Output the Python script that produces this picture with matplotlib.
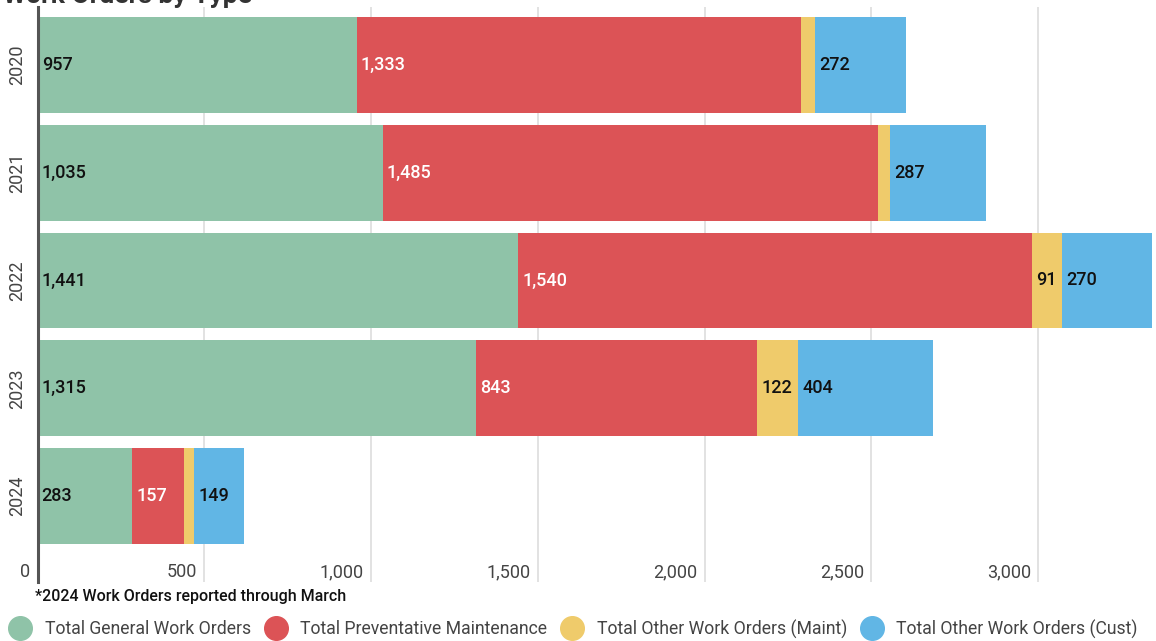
import matplotlib.pyplot as plt
from matplotlib.lines import Line2D
from matplotlib.transforms import blended_transform_factory, offset_copy

plt.rcParams['font.family'] = ['Roboto', 'DejaVu Sans']

# data
years = ['2020', '2021', '2022', '2023', '2024']
general = [957, 1035, 1441, 1315, 283]
preventative = [1333, 1485, 1540, 843, 157]
other_maint = [42, 37, 91, 122, 29]
other_cust = [272, 287, 270, 404, 149]

series_names = ['Total General Work Orders', 'Total Preventative Maintenance',
                'Total Other Work Orders (Maint)', 'Total Other Work Orders (Cust)']
series_vals = [general, preventative, other_maint, other_cust]
colors = ['#8fc3a8', '#dc5356', '#efcb6b', '#61b6e5']
label_colors = ['#111111', 'white', '#111111', '#111111']
xticks = [0, 500, 1000, 1500, 2000, 2500, 3000]

W, H = 1156, 641
fig = plt.figure(figsize=(W / 100, H / 100), dpi=100)
# axes in pixel terms: left 37.5, right 1154, top 7, bottom 582
ax = fig.add_axes([37.5 / W, 1 - 582 / H, (1154 - 37.5) / W, (582 - 7) / H])

y = list(range(len(years)))
left = [0] * len(years)
for vals, col, lcol in zip(series_vals, colors, label_colors):
    ax.barh(y, vals, left=left, height=0.89, color=col, zorder=2)
    for yi, (l, v) in enumerate(zip(left, vals)):
        if v >= 60:
            ax.text(l, yi, f'{v:,}', color=lcol, fontsize=13, fontweight='medium',
                    va='center', ha='left',
                    transform=offset_copy(ax.transData, fig=fig, x=3, y=0, units='points'),
                    zorder=3)
    left = [a + b for a, b in zip(left, vals)]

ax.set_xlim(0, (1154 - 37.5) / 0.3335)
ax.set_ylim(4.798, -0.538)

for sp in ['top', 'right', 'bottom']:
    ax.spines[sp].set_visible(False)
ax.spines['left'].set_color('#555555')
ax.spines['left'].set_linewidth(2.2)
ax.spines['left'].set_zorder(4)

for t in xticks[1:]:
    ax.axvline(t, color='#dddddd', lw=1.2, zorder=1)

ax.set_xticks([])
ax.set_yticks(y)
ax.set_yticklabels(years, rotation=90, va='center', fontsize=13, color='#444444')
ax.tick_params(axis='y', length=0, pad=8)

tr = blended_transform_factory(ax.transData, ax.transAxes)
for t in xticks:
    ax.text(t, (582 - 572) / 575, f'{t:,}', transform=offset_copy(tr, fig=fig, x=-5, y=0, units='points'),
            ha='right', va='center', fontsize=13, color='#444444')

fig.text(3 / W, 1 - 3 / H, 'Work Orders by Type', fontsize=19, fontweight='bold',
         color='#333333', ha='left', va='baseline')

fig.text(35 / W, 1 - 596 / H, '*2024 Work Orders reported through March', fontsize=11.5,
         fontweight='medium', color='#111111', ha='left', va='center')

handles = [Line2D([], [], marker='o', ls='', markersize=17, markerfacecolor=c,
                  markeredgecolor=c) for c in colors]
fig.legend(handles, series_names, loc='center', bbox_to_anchor=(0.497, 1 - 629 / H),
           ncol=4, frameon=False, fontsize=12.7, labelcolor='#444444',
           handletextpad=0.9, columnspacing=0.9, handlelength=1.0)

fig.savefig('out.png', dpi=100)
